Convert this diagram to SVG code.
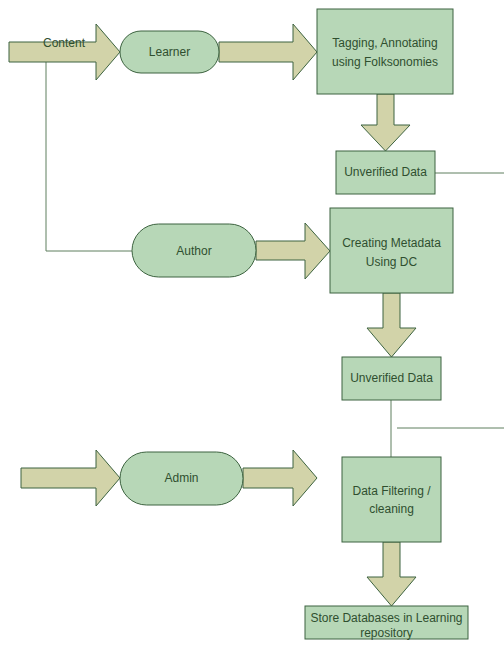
<svg xmlns="http://www.w3.org/2000/svg" width="504" height="649" viewBox="0 0 504 649">
<style>
.arrow{fill:#D2D3A9;stroke:#3D6340;stroke-width:1}
.node{fill:#B7D7B7;stroke:#3D6340;stroke-width:1}
.line{fill:none;stroke:#5E7F5E;stroke-width:1}
text{font-family:"Liberation Sans",Arial,sans-serif;font-size:12px;fill:#2F4F2F;text-anchor:middle}
</style>
<rect width="504" height="649" fill="#FFFFFF"/>
<g id="connectors">
<polyline class="line" points="46,62 46,251 132,251"/>
<line class="line" x1="435" y1="173" x2="504" y2="173"/>
<line class="line" x1="391" y1="400" x2="391" y2="457"/>
<line class="line" x1="397" y1="428" x2="504" y2="428"/>
<polygon class="arrow" points="9,42 96,42 96,24 120,52 96,80 96,62 9,62"/>
<polygon class="arrow" points="219,42 293,42 293,24 317,52 293,80 293,62 219,62"/>
<polygon class="arrow" points="256,241 305,241 305,223 330,251 305,279 305,260 256,260"/>
<polygon class="arrow" points="21,468 96,468 96,450 120,478 96,506 96,488 21,488"/>
<polygon class="arrow" points="243,468 293,468 293,450 317,478 293,506 293,488 243,488"/>
<polygon class="arrow" points="377,94 394,94 394,125 410,125 385.5,151 361,125 377,125"/>
<polygon class="arrow" points="383,293 400,293 400,328 416,328 391.5,357 367,328 383,328"/>
<polygon class="arrow" points="383,542 400,542 400,577 416,577 391.5,606 367,577 383,577"/>
<text x="64" y="47">Content</text>
</g>
<g id="learner">
<rect class="node" x="120" y="31" width="99" height="42" rx="21" ry="21"/>
<text x="169.5" y="56">Learner</text>
</g>
<g id="tagging">
<rect class="node" x="317" y="9" width="136" height="85"/>
<text x="385" y="47">Tagging, Annotating</text>
<text x="385" y="66">using Folksonomies</text>
</g>
<g id="unverified1">
<rect class="node" x="336" y="151" width="99" height="43"/>
<text x="385.5" y="176">Unverified Data</text>
</g>
<g id="author">
<rect class="node" x="132" y="224" width="124" height="53" rx="26.5" ry="26.5"/>
<text x="194" y="255">Author</text>
</g>
<g id="creating">
<rect class="node" x="330" y="208" width="123" height="85"/>
<text x="391.5" y="247">Creating Metadata</text>
<text x="391.5" y="266">Using DC</text>
</g>
<g id="unverified2">
<rect class="node" x="342" y="357" width="99" height="43"/>
<text x="391.5" y="382">Unverified Data</text>
</g>
<g id="admin">
<rect class="node" x="120" y="452" width="123" height="53" rx="26.5" ry="26.5"/>
<text x="181.5" y="482">Admin</text>
</g>
<g id="filtering">
<rect class="node" x="342" y="457" width="99" height="85"/>
<text x="391.5" y="495">Data Filtering /</text>
<text x="391.5" y="513">cleaning</text>
</g>
<g id="store">
<rect class="node" x="305" y="606" width="163" height="33"/>
<text x="386.5" y="622">Store Databases in Learning</text>
<text x="386.5" y="637">repository</text>
</g>
</svg>
